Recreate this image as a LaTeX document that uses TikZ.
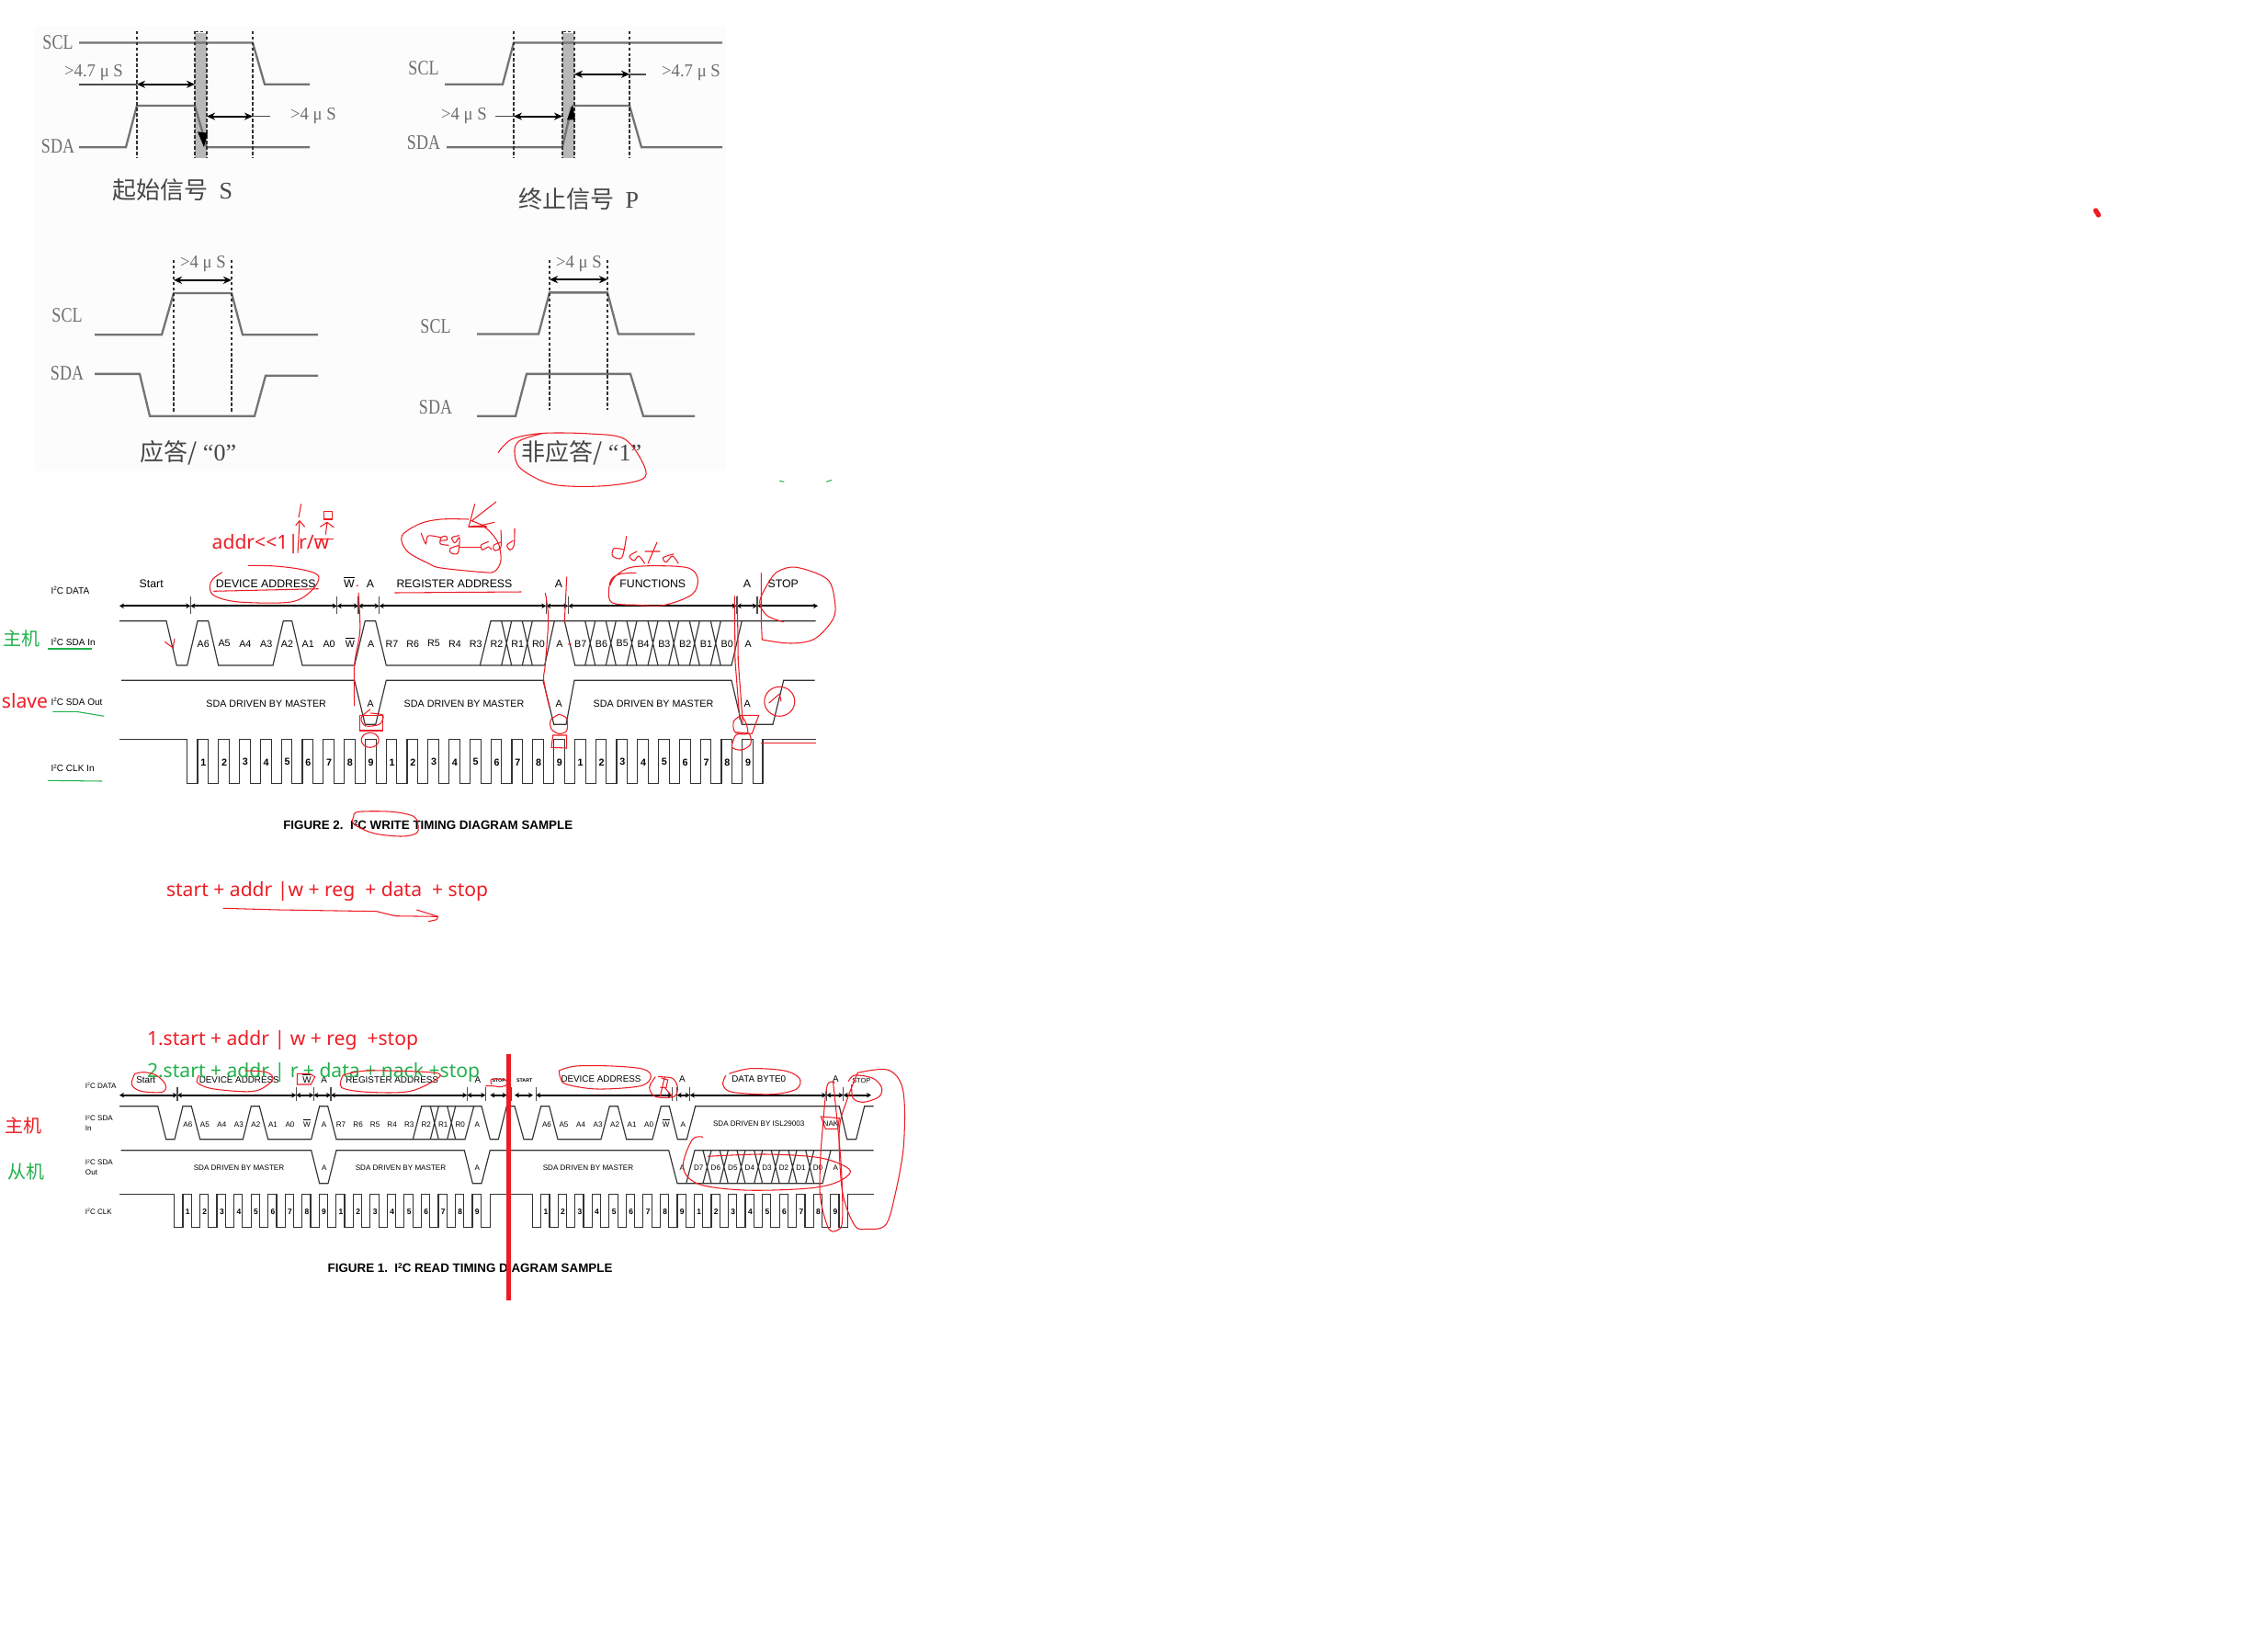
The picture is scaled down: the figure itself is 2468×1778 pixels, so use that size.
\documentclass[tikz,border=0pt]{standalone}
\usepackage{fontspec}
\usepackage{graphicx}
\usetikzlibrary{arrows.meta}
\setmainfont{Liberation Sans}
\newfontfamily\cjk{Noto Sans CJK SC}
\newfontfamily\yh{Noto Sans}
\newfontfamily\srf{Liberation Serif}
\definecolor{rd}{HTML}{ED1C24}
\definecolor{gn}{HTML}{22B14C}
\definecolor{scan}{HTML}{6E6E6E}
\definecolor{wv}{HTML}{333333}
\newcommand{\fs}[1]{\fontsize{#1}{#1}\selectfont}
\newcommand{\sqz}[1]{\scalebox{.8}[1]{#1}}
\newcommand{\sqm}[1]{\scalebox{.95}[1]{#1}}
\newcommand{\twos}{\raisebox{.32em}{\scalebox{.62}{2}}}
\newcommand{\wbar}{\rlap{\smash{\raisebox{.86em}{\rule{.944em}{.08em}}}}W}
\tikzset{
  x=0.01cm,y=-0.01cm,
  txt/.style={inner sep=0,outer sep=0,text=black},
  wA/.style={txt,font=\fs{3.5pt}},
  wB/.style={txt,font=\fs{3.05pt}},
  wC/.style={txt,font=\fs{3.05pt}\bfseries},
  wL/.style={txt,anchor=west,font=\fs{2.85pt}},
  rA/.style={txt,font=\fs{2.8pt}},
  rB/.style={txt,font=\fs{2.3pt}},
  rC/.style={txt,font=\fs{2.4pt}\bfseries},
  rL/.style={txt,anchor=west,font=\fs{2.3pt}},
  tinyl/.style={txt,font=\fs{1.5pt}\bfseries},
  figcap/.style={txt,anchor=west,font=\fs{3.8pt}\bfseries},
  redt/.style={inner sep=0,outer sep=0,text=rd,font=\yh\fs{6pt}},
  gret/.style={inner sep=0,outer sep=0,text=gn,font=\yh\fs{6pt}},
  cjkr/.style={inner sep=0,outer sep=0,text=rd,font=\cjk\fs{5.7pt}},
  cjkg/.style={inner sep=0,outer sep=0,text=gn,font=\cjk\fs{5.7pt}},
  scanl/.style={inner sep=0,outer sep=0,text=scan,font=\srf\fs{6.4pt}},
  scanm/.style={inner sep=0,outer sep=0,text=scan,font=\srf\fs{5.6pt}},
  scanc/.style={inner sep=0,outer sep=0,text=black!72,font=\cjk\fs{7.4pt}},
  sig/.style={draw=black!55,line width=.65pt},
  dsh/.style={draw=black!80,line width=.3pt,dash pattern=on 1pt off .7pt},
  dimen/.style={draw=black,line width=.55pt,{Stealth[length=.9mm,width=.8mm]}-{Stealth[length=.9mm,width=.8mm]}},
  leader/.style={draw=black!70,line width=.5pt},
  wave/.style={draw=wv,line width=.33pt,line join=miter},
  axisw/.style={draw=black,line width=.5pt,{Stealth[length=.5mm,width=.55mm]}-{Stealth[length=.5mm,width=.55mm]}},
  tickm/.style={draw=black!70,line width=.3pt},
  ink/.style={draw=rd,line width=.3pt},
  inkg/.style={draw=gn,line width=.3pt},
}
\newcommand{\cv}[1]{\draw[ink] plot[smooth,tension=.55] coordinates {#1};}
\begin{document}
\begin{tikzpicture}
\useasboundingbox (0,0) rectangle (2468,1778);
\fill[white] (0,0) rectangle (2468,1778);
\fill[black!1] (38,28) rectangle (790,512);

\begin{scope}[y=-0.00645cm]
% ---------- start signal
\fill[black!28] (212,55) rectangle (225,267);
\draw[sig] (86,72) -- (275,72) -- (288,142) -- (337,142);
\draw[sig] (86,248) -- (137,248) -- (149,178) -- (212,178) -- (225,248) -- (337,248);
\draw[dsh] (149,52) -- (149,267) (212,52) -- (212,267) (225,52) -- (225,267) (275,52) -- (275,267) (212,54)--(225,54);
\draw[leader] (86,142) -- (149,142);
\draw[dimen] (149,142) -- (212,142);
\draw[dimen] (225,196) -- (275,196);
\draw[leader] (275,196) -- (294,196);
\fill[black] (215,222) -- (226,224) -- (222,248) -- cycle;
\node[scanl] (s1) at (63,71) {\sqz{SCL}};
\node[scanl] (s2) at (63,247) {\sqz{SDA}};
\node[scanm] (s3) at (102,123) {\sqm{>4.7 μ S}};
\node[scanm] (s4) at (341,195) {\sqm{>4 μ S}};
\node[scanc] (s5) at (188,320) {起始信号\ \ {\srf S}};

% ---------- stop signal
\fill[black!28] (612,55) rectangle (625,267);
\draw[sig] (484,142) -- (547,142) -- (559,72) -- (786,72);
\draw[sig] (486,248) -- (612,248) -- (622,180) (625,178) -- (685,178) -- (698,248) -- (786,248);
\draw[dsh] (559,52) -- (559,267) (612,52) -- (612,267) (625,52) -- (625,267) (685,52) -- (685,267) (612,54)--(625,54);
\draw[dimen] (625,125) -- (685,125);
\draw[leader] (685,125) -- (703,125);
\draw[dimen] (559,196) -- (612,196);
\draw[leader] (539,196) -- (559,196);
\fill[black] (617,202) -- (626,202) -- (623,176) -- cycle;
\node[scanl] (p1) at (461,115) {\sqz{SCL}};
\node[scanl] (p2) at (461,240) {\sqz{SDA}};
\node[scanm] (p3) at (752,123) {\sqm{>4.7 μ S}};
\node[scanm] (p4) at (505,195) {\sqm{>4 μ S}};
\node[scanc] (p5) at (630,335) {终止信号\ \ {\srf P}};

% ---------- ack 0
\draw[sig] (103,564) -- (176,564) -- (189,494) -- (252,494) -- (264,564) -- (346,564);
\draw[sig] (103,630) -- (152,630) -- (163,701) -- (277,701) -- (289,633) -- (346,633);
\draw[dsh] (189,438) -- (189,693) (252,438) -- (252,693);
\draw[dimen] (189,472) -- (252,472);
\node[scanl] (a1) at (73,532) {\sqz{SCL}};
\node[scanl] (a2) at (73,629) {\sqz{SDA}};
\node[scanm] (a3) at (221,445) {\sqm{>4 μ S}};
\node[scanc] (a4) at (205,763) {应答/ {\srf “0”}};

% ---------- nack 1
\draw[sig] (519,563) -- (586,563) -- (598,493) -- (661,493) -- (673,563) -- (756,563);
\draw[sig] (519,701) -- (561,701) -- (573,630) -- (686,630) -- (700,701) -- (756,701);
\draw[dsh] (598,438) -- (598,691) (661,438) -- (661,691);
\draw[dimen] (598,471) -- (661,471);
\node[scanl] (n1) at (474,550) {\sqz{SCL}};
\node[scanl] (n2) at (474,686) {\sqz{SDA}};
\node[scanm] (n3) at (630,444) {\sqm{>4 μ S}};
\node[scanc] (n4) at (633,763) {非应答/ {\srf “1”}};
\cv{(542,763) (557,740) (591,730) (643,731) (680,740) (701,785) (698,808) (654,819) (601,816) (567,790) (560,763) (565,743) (591,730)}
\end{scope}

% ---------- FIGURE 2 write
\node[wA] (w1) at (164.7,635.7) {Start};
\node[wA] (w2) at (289.3,635.7) {DEVICE ADDRESS};
\node[wA] (w3) at (380,635.7) {\wbar};
\node[wA] (w4) at (403,635.7) {A};
\node[wA] (w5) at (494.5,635.7) {REGISTER ADDRESS};
\node[wA] (w6) at (608,635.7) {A};
\node[wA] (w7) at (710.3,635.7) {FUNCTIONS};
\node[wA] (w8) at (813,635.7) {A};
\node[wA] (w9) at (852.3,635.7) {STOP};
\node[wL] (wl1) at (55.7,642.3) {I\twos C DATA};
\node[wL] (wl2) at (55.7,698.3) {I\twos C SDA In};
\node[wL] (wl3) at (55.7,763.3) {I\twos C SDA Out};
\node[wL] (wl4) at (55.7,836) {I\twos C CLK In};

\foreach \a/\b in {130/207.3,207.3/366.7,366.7/390,390/412.7,412.7/594.3,594.3/618.3,618.3/801.7,801.7/824,824/890}
  \draw[axisw] (\a,659.3) -- (\b,659.3);
\foreach \a in {207.3,366.7,390,412.7,594.3,618.3,801.7,824}
  \draw[tickm] (\a,649) -- (\a,668);

\draw[wave] (130,675.7) -- (181,675.7) -- (192.3,724) -- (203.7,724) -- (215,675.7) -- (226.7,675.7) -- (237.7,724) -- (297,724) -- (308.3,675.7) -- (317.7,675.7) -- (329,724) -- (385.7,724) -- (397.3,675.7) -- (408.7,675.7) -- (420.3,724) -- (522.3,724) -- (534,675.7) -- (887.7,675.7);
\draw[wave] (522.3,724) -- (592.7,724) -- (603.3,675.7);
\draw[wave] (614.3,675.7) -- (625.7,724) -- (796,724) -- (807.3,675.7);
\foreach \a/\b in {545.7/556.7,568.3/579.3,636.7/647.7,659.3/670.3,682/693,705/716,727.7/738.7,750.3/761.3,773.3/784.3}
  \draw[wave] (\a,724) -- (\b,675.7) (\a,675.7) -- (\b,724);
\draw[wave] (132,740.3) -- (385.7,740.3) -- (397.3,788.3) -- (408.7,788.3) -- (420.3,740.3) -- (591,740.3) -- (602.7,788.3) -- (616,788.3) -- (625,740.3) -- (796,740.3) -- (807.3,788.3) -- (841,788.3) -- (852.7,740.3) -- (886.7,740.3);
\draw[wave] (130,804.3) -- (203.3,804.3) -- (203.3,852.7) foreach \k in {0,...,26} { -- ({215+22.8*\k},852.7) -- ({215+22.8*\k},804.3) -- ({226.7+22.8*\k},804.3) -- ({226.7+22.8*\k},852.7)} -- (830,852.7) -- (830,804.3) -- (887.7,804.3);

\foreach \t [count=\i from 0] in {A6,A5,A4,A3,A2,A1,A0,{\wbar},A,R7,R6,R5,R4,R3,R2,R1,R0,A,B7,B6,B5,B4,B3,B2,B1,B0,A}
  \node[wB] (wb\i) at ({221.3+22.8*\i},700.3) {\t};
\foreach \t [count=\i from 0] in {1,2,3,4,5,6,7,8,9,1,2,3,4,5,6,7,8,9,1,2,3,4,5,6,7,8,9}
  \node[wC] (wd\i) at ({221.3+22.8*\i},829.3) {\t};
\node[wB] (wo1) at (289.7,765.3) {SDA DRIVEN BY MASTER};
\node[wB] (wo2) at (403.3,765.3) {A};
\node[wB] (wo3) at (505,765.3) {SDA DRIVEN BY MASTER};
\node[wB] (wo4) at (608.3,765.3) {A};
\node[wB] (wo5) at (711,765.3) {SDA DRIVEN BY MASTER};
\node[wB] (wo6) at (813.3,765.3) {A};
\node[figcap] (wcap) at (308.3,898) {FIGURE 2.\ \ I\twos C WRITE TIMING DIAGRAM SAMPLE};

\node[cjkg] (wh1) at (23.3,695) {主机};
\node[redt] (wh2) at (27,763) {slave};
\draw[inkg] (52,706) -- (100,706);
\draw[inkg] (57.3,774.3) -- (83.3,774.3) -- (113.3,779.3);
\draw[inkg] (52,849.3) -- (111,850);

\node[redt,anchor=west] (wh3) at (230.7,592) {addr<<1|r/w};
\cv{(327.7,548.3) (325,563)}
\draw[ink] (324,601.7) -- (326,566.7) (321.7,571.7) -- (326,566.7) -- (331.7,573.3);
\draw[ink] (352.7,556.7) rectangle (361.7,565);
\draw[ink] (354.3,581.7) -- (356,568.3) (348.3,573.3) -- (356,568.3) -- (363.3,574);
\draw[ink] (343.3,586.7) -- (362.7,586.7);
\cv{(241.7,622.7) (231.7,630) (228.3,638.3) (233.3,648.3) (260,655) (316.7,655) (340,641.7) (346.7,626.7) (330,620) (300,616) (270,615.3)}
\draw[ink] (232.3,643.3) -- (346.7,640.7);
\draw[ink] (429.3,645) -- (567.3,644);
\cv{(390,645) (391.7,686.7) (385.7,723.3) (385.7,768.3)}
\draw[ink] (387.7,637.3) -- (390,637);
\draw[ink] (179.3,698.3) -- (188.3,705) -- (190,695);
\draw[ink] (391.7,778.3) rectangle (416.7,795);
\cv{(403,771.7) (395,778.3) (393,783) (398,790) (413,788) (416.7,778.3) (403,776)}
\draw[ink] (402.7,805.3) ellipse [x radius=9.5,y radius=8];
\cv{(385,888.3) (390,883.3) (426.7,883.3) (450,888.3) (455,898.3) (453,906.7) (436.7,910) (406.7,906.7) (385,896.7) (385,888.3)}
% reg add
\cv{(510,565) (480,565) (456.7,570) (437.3,583.3) (443.3,600) (466.7,613.3) (480,618) (526.7,622.7) (538.3,621.7) (545,610) (541.7,590) (526.7,573.3) (510,573.3)}
\draw[ink] (516.7,548.3) -- (510,573.3) -- (530,573.3) (540,546) -- (513.3,566.7) -- (530,573.3) (538.3,568.3) -- (523.3,571.7);
\cv{(458.3,580) (463.3,591.7) (466,583) (480,585)}
\cv{(478.3,588.3) (486.7,587.3) (485,583.3) (480,585) (479.3,591.7) (488.3,593.3)}
\cv{(500,582.7) (491.7,585) (495,590.7) (500,585) (498.3,601.7) (490.7,601.7) (490,596.7) (500,593.3)}
\draw[ink] (500,595.7) -- (523.3,595.7);
\cv{(531.7,589.3) (523.3,593.3) (525,598.3) (531.7,595) (535,598.3)}
\cv{(545,590) (537.3,593.3) (538.3,599) (545,595) (545,576.7)}
\cv{(558.3,588.3) (551.7,593.3) (555,598.3) (559.3,593.3) (560,575)}
% data
\cv{(680,598.3) (668.3,596.7) (666.7,605) (676.7,606.7) (681.7,583.3)}
\cv{(693.3,600) (685,605) (690,610) (695,605) (701.7,613.3)}
\draw[ink] (715,590) -- (705,613.3) (701.7,600) -- (718.3,600);
\cv{(733.3,602.7) (721.7,606.7) (725,611.7) (731.7,605) (738.3,613.3)}
\cv{(692.3,623.3) (673.3,625) (664,633.3) (665,655) (693.3,658.3) (723.3,658.3) (753.3,646.7) (759.3,630) (750,618.3) (720,615.7) (686.7,617.3) (670,626.7) (664,636.7)}
% stop
\draw[ink] (828.3,623.3) -- (828.3,673.3) -- (829.3,696);
\cv{(829.3,696) (860,700) (886.7,695) (906.7,673.3) (908.3,653.3) (900,630) (866.7,617.3) (846.7,621.7) (836.7,633.3) (826.7,655) (835,670) (852.7,676.7)}
\cv{(593.3,645) (596.7,673.3) (593.3,723.3) (591.7,740) (598,770)}
\draw[ink] (616.7,627.7) -- (614.3,676.7) (618.3,701) -- (621.7,701);
\cv{(608.3,777.3) (599.3,783.3) (600,793.3) (608.3,798.3) (616.7,795) (616.7,781.7) (608.3,777.3)}
\draw[ink] (601.7,800) -- (600,813.3) -- (616.7,814) -- (616.7,800) -- cycle;
\draw[ink] (799.3,648.3) -- (800,720) -- (805,783.3) (802.3,648.3) -- (803.3,720) -- (808.3,786.7);
\cv{(806.7,778.3) (798.3,785) (800,796.7) (813.3,798.3) (811.7,786.7) (806.7,778.3)}
\draw[ink] (806.7,778.3) -- (825.7,778.3) -- (818.3,798.3) -- (800,796.7);
\cv{(798.3,805) (796.7,813.3) (806.7,816) (816.7,810) (815,798.3) (801.7,799.3) (798.3,805)}
\draw[ink] (848.3,763.3) ellipse [x radius=16.5,y radius=16];
\draw[ink] (836.7,765) -- (848.3,755) -- (850,763.3);
\draw[ink] (827.7,808.3) -- (887.7,808.3);

\draw[inkg] (848.3,523.3) -- (853.3,524.3);
\draw[inkg] (899.3,524.3) -- (905,522.3);
\draw[rd,line width=1.5pt,line cap=round] (2280.5,229) -- (2283.5,234);

\node[redt,anchor=west] (st) at (181,970) {start + addr |w + reg\ \ + data\ \ + stop};
\draw[ink] (242.7,988.3) -- (303.3,990) -- (410,991.7) -- (430,996.7) -- (476.7,997.3) -- (475,1000.7) -- (466,1002.7);
\draw[ink] (453.3,990) -- (476.7,997.3);

% ---------- FIGURE 1 read
\node[redt,anchor=west] (r1) at (160,1132) {1.start + addr | w + reg\ \ +stop};

\node[rA] (a1t) at (158.7,1174.7) {Start};
\node[rA] (a2t) at (260.3,1174.7) {DEVICE ADDRESS};
\node[rA] (a3t) at (334,1174.7) {\wbar};
\node[rA] (a4t) at (352.7,1174.7) {A};
\node[rA] (a5t) at (426.7,1174.7) {REGISTER ADDRESS};
\node[rA] (a6t) at (520,1174.7) {A};
\node[tinyl] (a7t) at (542.7,1176) {STOP};
\node[tinyl] (a8t) at (570.7,1176) {START};
\node[rA] (a9t) at (654,1174.3) {DEVICE ADDRESS};
\node[rA] (a10t) at (742.3,1174.3) {A};
\node[rA] (a11t) at (825.7,1174.3) {DATA BYTE0};
\node[rA] (a12t) at (909.3,1174.3) {A};
\node[txt,font=\fs{2.1pt}] (a13t) at (937.3,1175.5) {STOP};

\node[rL] (rl1) at (93,1181) {I\twos C DATA};
\node[rL,align=left] (rl2) at (93,1222.3) {I\twos C SDA\\[.9pt]In};
\node[rL,align=left] (rl3) at (93,1270.2) {I\twos C SDA\\[.9pt]Out};
\node[rL] (rl4) at (93,1318.3) {I\twos C CLK};

\foreach \a/\b in {130/193,193/322.3,322.3/341.3,341.3/360,360/508.3,508.3/528.3,533.3/551.7,560/580,583.3/731.7,736.7/750.7,750.7/899.3,899.3/917.7,917.7/948}
  \draw[axisw] (\a,1191.7) -- (\b,1191.7);
\foreach \a in {193,322.3,341.3,360,508.3,528.3,556.7,583.3,731.7,736.7,750.7,899.3,917.7}
  \draw[tickm] (\a,1183) -- (\a,1198);

\draw[wave] (130,1203.7) -- (171.7,1203.7) -- (180.7,1239.7) -- (190,1239.7) -- (199,1203.7) -- (208.3,1203.7) -- (217.7,1239.7) -- (264.3,1239.7) -- (273.3,1203.7) -- (282.3,1203.7) -- (291.7,1239.7) -- (338.7,1239.7) -- (347.7,1203.7) -- (356.7,1203.7) -- (366,1239.7) -- (449.3,1239.7) -- (458.7,1203.7) -- (524,1203.7) -- (533.3,1239.7) -- (542.3,1239.7) -- (551.3,1203.7) -- (560,1203.7) -- (570,1239.7) -- (579.3,1239.7) -- (588.7,1203.7) -- (597.7,1203.7) -- (607,1239.7) -- (654,1239.7) -- (663.3,1203.7) -- (672.3,1203.7) -- (681.7,1239.7) -- (710,1239.7) -- (719.3,1203.7) -- (728.3,1203.7) -- (737.3,1239.7) -- (747.3,1239.7) -- (756.7,1203.7) -- (913.3,1203.7) -- (921.7,1239.7) -- (931.7,1239.7) -- (940.7,1203.7) -- (950.7,1203.7);
\draw[wave] (449.3,1239.7) -- (506,1239.7) -- (515.7,1203.7);
\foreach \a/\b in {468.3/477.3,486.7/495.7}
  \draw[wave] (\a,1239.7) -- (\b,1203.7) (\a,1203.7) -- (\b,1239.7);
\draw[wave] (131.7,1251.7) -- (338.7,1251.7) -- (347.7,1287.7) -- (357,1287.7) -- (366,1251.7) -- (505.3,1251.7) -- (514.3,1287.7) -- (524,1287.7) -- (533.3,1251.7) -- (727.7,1251.7) -- (737,1287.7) -- (895,1287.7) -- (904,1251.7);
\draw[wave] (746.7,1287.7) -- (756,1251.7) -- (950.7,1251.7);
\foreach \a/\b in {765/774,783.3/792.3,802/811,820.7/829.7,839.3/848.3,858/867,876.7/885.7}
  \draw[wave] (\a,1287.7) -- (\b,1251.7) (\a,1251.7) -- (\b,1287.7);
\draw[wave] (130,1299.3) -- (189.3,1299.3) -- (189.3,1335.3) foreach \k in {0,...,17} { -- ({199+18.53*\k},1335.3) -- ({199+18.53*\k},1299.3) -- ({208.3+18.53*\k},1299.3) -- ({208.3+18.53*\k},1335.3)} -- (533.3,1335.3) -- (533.3,1299.3) -- (579.3,1299.3) -- (579.3,1335.3) foreach \k in {0,...,17} { -- ({588.7+18.53*\k},1335.3) -- ({588.7+18.53*\k},1299.3) -- ({598+18.53*\k},1299.3) -- ({598+18.53*\k},1335.3)} -- (922.7,1335.3) -- (922.7,1299.3) -- (950.7,1299.3);

\foreach \t [count=\i from 0] in {A6,A5,A4,A3,A2,A1,A0,{\wbar},A,R7,R6,R5,R4,R3,R2,R1,R0,A}
  \node[rB] (rb\i) at ({204.3+18.53*\i},1223.3) {\t};
\foreach \t [count=\i from 0] in {A6,A5,A4,A3,A2,A1,A0,{\wbar},A}
  \node[rB] (rc\i) at ({595+18.53*\i},1223.3) {\t};
\node[rB] (ri1) at (825.7,1223) {SDA DRIVEN BY ISL29003};
\node[rB] (ri2) at (904,1223) {NAK};
\node[rB] (ro1) at (260,1270.3) {SDA DRIVEN BY MASTER};
\node[rB] (ro2) at (352.7,1270.3) {A};
\node[rB] (ro3) at (436,1270.3) {SDA DRIVEN BY MASTER};
\node[rB] (ro4) at (519.3,1270.3) {A};
\node[rB] (ro5) at (640,1270.3) {SDA DRIVEN BY MASTER};
\node[rB] (ro6) at (742.3,1270.3) {A};
\foreach \t [count=\i from 0] in {D7,D6,D5,D4,D3,D2,D1,D0}
  \node[rB] (rd\i) at ({760.3+18.53*\i},1270.3) {\t};
\node[rB] (ro7) at (909.3,1270.3) {A};
\foreach \t [count=\i from 0] in {1,2,3,4,5,6,7,8,9,1,2,3,4,5,6,7,8,9}
  \node[rC] (re\i) at ({204.3+18.53*\i},1318.3) {\t};
\foreach \t [count=\i from 0] in {1,2,3,4,5,6,7,8,9,1,2,3,4,5,6,7,8,9}
  \node[rC] (rf\i) at ({594+18.53*\i},1318.3) {\t};
\node[figcap] (rcap) at (356.7,1380) {FIGURE 1.\ \ I\twos C READ TIMING DIAGRAM SAMPLE};

\node[cjkr] (rh1) at (26,1225) {主机};
\node[cjkg] (rh2) at (29,1275) {从机};
\node[gret,anchor=west] (r2) at (160,1167) {2.start + addr | r + data + nack +stop};

\cv{(146.7,1168.3) (143.3,1180) (153.3,1187.3) (176.7,1188.3) (180,1180) (170,1170) (156.7,1166.7) (146.7,1168.3)}
\cv{(216.7,1170) (215,1178.3) (233.3,1185) (276.7,1187.3) (296.7,1175) (290,1166.7) (266.7,1165)}
\draw[ink] (323.3,1168.3) -- (323.3,1180) -- (338.3,1180) -- (342.7,1171.7) -- (336.7,1168.3) -- cycle;
\cv{(373.3,1170) (371.7,1183.3) (400,1188.3) (446.7,1187.3) (478.3,1171.7) (466.7,1166.7) (400,1165) (373.3,1170)}
\cv{(528.3,1181.7) (536.7,1181.7) (545,1182.7) (551.7,1180) (550,1175) (535,1174.3) (535,1180)}
\cv{(608.3,1165) (610,1173.3) (616.7,1180) (650,1185) (696.7,1181.7) (708.3,1171.7) (700,1163.3) (666.7,1160) (626.7,1160) (608.3,1165)}
\cv{(713.3,1171.7) (706.7,1183.3) (713.3,1193.3) (733.3,1193.3) (737.3,1183.3) (731.7,1173.3) (716,1171.7)}
\draw[ink] (720,1173.3) -- (726.7,1175) -- (725,1183.3) -- (718.3,1183.3) (723.3,1171.7) -- (718.3,1193.3) (723.3,1183.3) -- (731.7,1193.3);
\cv{(790,1170) (786.7,1180) (796.7,1188.3) (840,1190.7) (866.7,1185) (870,1173.3) (853.3,1165) (816.7,1162.7) (793.3,1168.3)}
\cv{(923.3,1176.7) (930,1170) (950,1173.3) (959.3,1183.3) (956.7,1193.3) (940,1199.3) (928.3,1195) (926.7,1180)}
\cv{(933.3,1167.3) (966.7,1164.3) (982.7,1186.7) (983.3,1246.7) (973.3,1303.3) (963.3,1333.3) (943.3,1337.3) (930,1333.3) (916.7,1296.7) (913.3,1230) (921.7,1196.7) (933.3,1167.3)}
\cv{(908.3,1178.3) (900,1181.7) (895,1230) (892.7,1263.3) (892.7,1303.3) (901.7,1336.7) (911.7,1338.3) (916.7,1326.7) (915,1263.3) (906.7,1178.3)}
\draw[ink] (893.3,1215) -- (898.3,1228.3) -- (911.7,1228.3) -- (913.3,1216.7) -- cycle;
\cv{(765,1237.3) (753.3,1240) (743.3,1270) (760,1288.3) (810,1295) (876.7,1293.3) (910,1286.7) (925,1273.3) (893.3,1260) (833.3,1256) (770,1258.3)}
\draw[rd,line width=1.35pt] (553.3,1147.3) -- (553.3,1415);
\end{tikzpicture}
\end{document}
